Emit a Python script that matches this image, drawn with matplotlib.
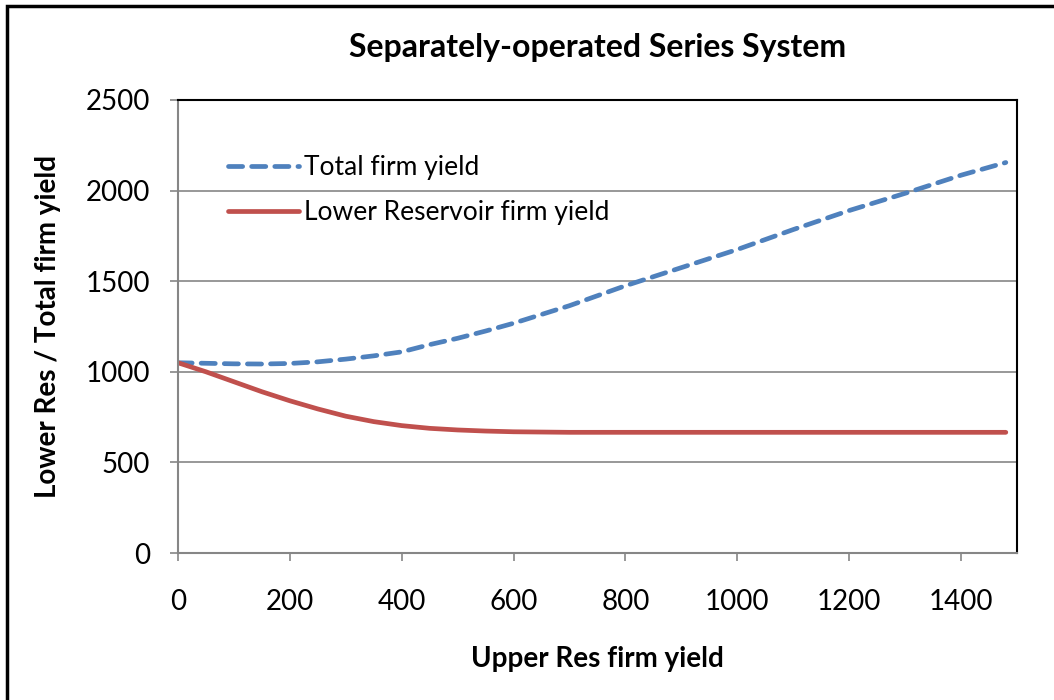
import matplotlib.pyplot as plt
from matplotlib.patches import Rectangle

# upper reservoir firm yield (x) and the two yields
upper = [0, 50, 100, 150, 200, 250, 300, 350, 400, 450, 500, 550, 600,
         700, 800, 900, 1000, 1100, 1200, 1300, 1400, 1480]
total = [1050, 1047, 1044, 1043, 1046, 1055, 1070, 1088, 1110, 1150, 1185, 1225, 1268,
         1365, 1475, 1575, 1675, 1785, 1890, 1985, 2085, 2155]
lower = [1050, 1000, 945, 890, 840, 795, 755, 725, 703, 688, 679, 673, 669,
         666, 666, 666, 666, 666, 666, 666, 666, 666]

plt.rcParams["font.family"] = ["Lato", "DejaVu Sans"]

fig = plt.figure(figsize=(10.54, 7), dpi=100)
ax = fig.add_axes([178 / 1054, 1 - 553 / 700, (1017 - 178) / 1054, (553 - 100) / 700])

ax.plot(upper, total, color="#4F81BD", lw=3.4, ls=(0, (3, 1.9)), dash_capstyle="round",
        label="Total firm yield")
ax.plot(upper, lower, color="#C0504D", lw=3.4, solid_capstyle="round",
        label="Lower Reservoir firm yield")

ax.set_xlim(0, 1500)
ax.set_ylim(0, 2500)
ax.set_xticks(range(0, 1401, 200))
ax.set_yticks(range(0, 2501, 500))
ax.grid(axis="y", color="#868686", lw=1.2)
ax.set_axisbelow(True)
ax.tick_params(direction="out", length=6, width=1.2, color="#868686", labelsize=20)
ax.tick_params(axis="x", pad=20)
ax.tick_params(axis="y", pad=14)
for s in ["left", "bottom"]:
    ax.spines[s].set_color("#868686")
    ax.spines[s].set_linewidth(1.5)
for s in ["top", "right"]:
    ax.spines[s].set_color("black")
    ax.spines[s].set_linewidth(1.5)

ax.set_title("Separately-operated Series System", fontsize=23, fontweight="bold", pad=31)
ax.set_xlabel("Upper Res firm yield", fontsize=20, fontweight="bold", labelpad=22)
ax.set_ylabel("Lower Res / Total firm yield", fontsize=20, fontweight="bold", labelpad=18)

ax.legend(loc="upper left", bbox_to_anchor=(0.031, 0.93), frameon=False, fontsize=19,
          handlelength=2.7, handletextpad=0.2, labelspacing=0.75)

# outer chart border (top and left visible)
fig.patches.append(Rectangle((7 / 1054, -0.5), 2, 1.5 - 6 / 700, transform=fig.transFigure,
                             fill=False, ec="black", lw=2.5))

fig.savefig("out.png", dpi=100)
